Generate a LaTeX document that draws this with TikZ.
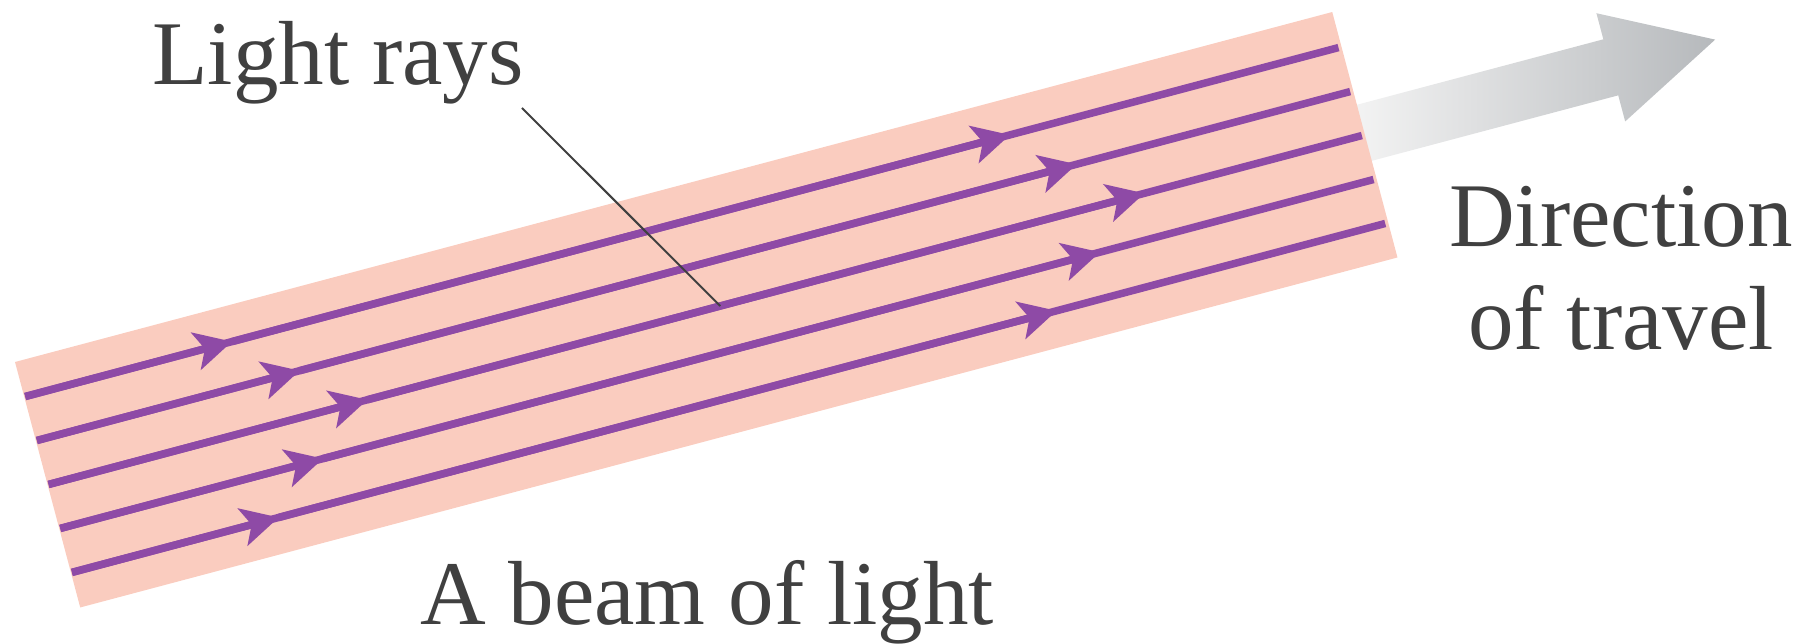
\documentclass[tikz,border=0pt]{standalone}
\usepackage{fontspec}
\setmainfont{Liberation Serif}
\usetikzlibrary{arrows.meta}
\definecolor{beampink}{RGB}{250,204,191}
\definecolor{raypurple}{RGB}{142,74,166}
\definecolor{txtgray}{RGB}{64,64,64}
\definecolor{arrowgray}{RGB}{182,185,188}
\begin{document}
\begin{tikzpicture}[x=1pt,y=1pt,
  ray/.style={draw=raypurple, line width=7.5pt},
  raytip/.style={-{Stealth[length=37pt,width=38pt,inset=9pt]}},
  txtlabel/.style={text=txtgray, font=\fontsize{91}{103}\selectfont, inner sep=0pt},
  leader/.style={draw=txtgray, line width=2pt}]
\useasboundingbox (0,0) rectangle (1818,644);
\begin{scope}[shift={(15,282)}, rotate=14.88]
  % direction arrow
  \shade[left color=gray!8, right color=arrowgray]
    (1350,-96) -- (1618,-96) -- (1618,-69) -- (1726,-125) -- (1618,-181) -- (1618,-154) -- (1350,-154) -- cycle;
  % beam
  \fill[beampink] (0,0) rectangle (1363,-254);
  % rays
  \foreach \v/\a/\b [count=\i] in {36/215/1020, 81.5/273/1077, 127/331/1135, 172.5/273/1077, 218/215/1020} {
    \coordinate (s\i) at (1,-\v);
    \coordinate (a\i) at (\a,-\v);
    \coordinate (b\i) at (\b,-\v);
    \coordinate (e\i) at (1360,-\v);
    \draw[ray] (s\i) -- (e\i);
    \draw[ray,raytip] (s\i) -- (a\i);
    \draw[ray,raytip] (a\i) -- (b\i);
  }
  \coordinate (leaderend) at (696,-127);
\end{scope}
\node[txtlabel, anchor=base west] (lr) at (152,559) {Light rays};
\node[txtlabel, anchor=base west] (bl) at (420,19) {A beam of light};
\node[txtlabel, anchor=base] (dir1) at (1621,397) {Direction};
\node[txtlabel, anchor=base] (dir2) at (1621,294) {of travel};
\coordinate (leaderstart) at (522,536);
\draw[leader] (leaderstart) -- (leaderend);
\end{tikzpicture}
\end{document}
